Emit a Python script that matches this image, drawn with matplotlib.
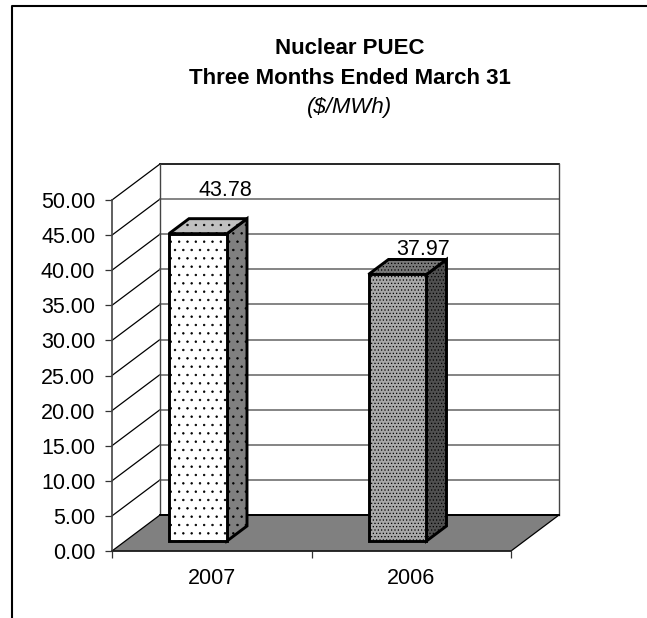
import matplotlib
matplotlib.use('Agg')
import matplotlib.pyplot as plt
from matplotlib.patches import Polygon
from matplotlib.lines import Line2D

plt.rcParams['font.family'] = 'Liberation Sans'
plt.rcParams['hatch.linewidth'] = 0.5

years = ['2007', '2006']
values = [43.78, 37.97]
yticks = [0, 5, 10, 15, 20, 25, 30, 35, 40, 45, 50]

# depth of the fake 3d box, in data units
wall_dx = 48 / 199.5
wall_dy = 36 / 7.02
bar_dx = 20 / 199.5
bar_dy = 15 / 7.02
bar_y0 = 10 / 7.02
bar_w = 58 / 199.5
bar_left = [57 / 199.5, 1 + 57 / 199.5]

fig = plt.figure(figsize=(6.47, 6.18), dpi=100)
ax = fig.add_axes([112 / 647, (618 - 551) / 618, 399 / 647, 351 / 618])
ax.set_xlim(0, 2)
ax.set_ylim(0, 50)
for s in ax.spines.values():
    s.set_visible(False)
ax.patch.set_visible(False)

# outer border, only left and top
fig.add_artist(Line2D([12 / 647, 12 / 647, 1], [0, 1 - 6 / 618, 1 - 6 / 618], color='black', lw=1.5))

# floor
ax.add_patch(Polygon([(0, 0), (wall_dx, wall_dy), (2 + wall_dx, wall_dy), (2, 0)],
                     facecolor='#808080', edgecolor='black', lw=0.9, clip_on=False, zorder=2))
ax.plot([wall_dx, 2 + wall_dx], [wall_dy, wall_dy], color='black', lw=1.4, clip_on=False, zorder=2.5)

# walls and grid
for t in yticks[1:]:
    ax.plot([0, wall_dx], [t, t + wall_dy], color='black', lw=0.9, clip_on=False, zorder=1)
    c = 'black' if t == 50 else '#707070'
    ax.plot([wall_dx, 2 + wall_dx], [t + wall_dy, t + wall_dy], color=c, lw=1.2, clip_on=False, zorder=1)
ax.plot([wall_dx, wall_dx], [wall_dy, 50 + wall_dy], color='#444444', lw=1.0, clip_on=False, zorder=1)
ax.plot([2 + wall_dx, 2 + wall_dx], [wall_dy, 50 + wall_dy], color='#444444', lw=1.0, clip_on=False, zorder=1)

# bars
styles = [
    dict(front=('white', '..'), side=('#808080', '..'), top=('#c0c0c0', '..')),
    dict(front=('#a8a8a8', '.....'), side=('#505050', '.....'), top=('#787878', '.....')),
]
for left, v, st in zip(bar_left, values, styles):
    x0, x1 = left, left + bar_w
    y0, y1 = bar_y0, bar_y0 + v
    ax.add_patch(Polygon([(x1, y0), (x1 + bar_dx, y0 + bar_dy), (x1 + bar_dx, y1 + bar_dy), (x1, y1)],
                         facecolor=st['side'][0], hatch=st['side'][1], edgecolor='black', lw=2.1,
                         clip_on=False, zorder=4))
    ax.add_patch(Polygon([(x0, y1), (x1, y1), (x1 + bar_dx, y1 + bar_dy), (x0 + bar_dx, y1 + bar_dy)],
                         facecolor=st['top'][0], hatch=st['top'][1], edgecolor='black', lw=2.1,
                         clip_on=False, zorder=4))
    ax.add_patch(Polygon([(x0, y0), (x1, y0), (x1, y1), (x0, y1)],
                         facecolor=st['front'][0], hatch=st['front'][1], edgecolor='black', lw=2.1,
                         clip_on=False, zorder=5))

# value labels
label_offsets = [(20, 31), (18.5, 18)]
for left, v, off in zip(bar_left, values, label_offsets):
    ax.annotate('%.2f' % v, (left + bar_w / 2, bar_y0 + v), xytext=off, textcoords='offset points',
                ha='center', va='center', fontsize=15.5, zorder=6, annotation_clip=False)

ax.set_yticks(yticks)
ax.set_yticklabels(['%.2f' % t for t in yticks], fontsize=15.5)
ax.set_xticks([0, 1, 2])
ax.set_xticklabels([])
ax.tick_params(axis='both', length=5, width=0.9, color='#333333', pad=7)
ax.spines['left'].set_visible(True)
ax.spines['left'].set_color('#444444')
ax.spines['left'].set_linewidth(1.2)
ax.spines['bottom'].set_visible(True)
ax.spines['bottom'].set_color('#222222')
ax.spines['bottom'].set_linewidth(1.1)
ax.spines['left'].set_zorder(3)
ax.spines['bottom'].set_zorder(3)
for i, y in enumerate(years):
    ax.annotate(y, (i + 0.5, 0), xytext=(0, -20), textcoords='offset points', ha='center', va='center', fontsize=15.5)

fig.text(350 / 647, 1 - 49 / 618, 'Nuclear PUEC', ha='center', va='center', fontsize=16, fontweight='bold')
fig.text(350 / 647, 1 - 78 / 618, 'Three Months Ended March 31', ha='center', va='center', fontsize=16, fontweight='bold')
fig.text(350 / 647, 1 - 108 / 618, '($/MWh)', ha='center', va='center', fontsize=16, style='italic')

fig.savefig('out.png', dpi=100)
